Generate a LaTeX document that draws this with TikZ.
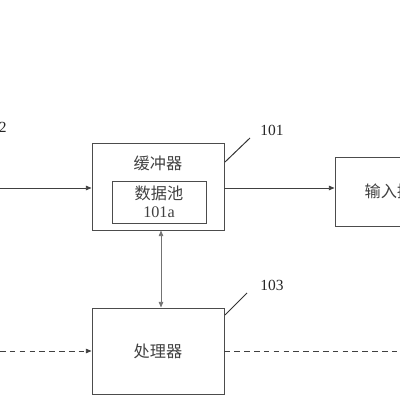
\documentclass[tikz,border=0pt]{standalone}
\usepackage{fontspec}
\setmainfont{Liberation Serif}
\newfontfamily\cjk{Noto Sans CJK SC}
\usetikzlibrary{arrows.meta}
\begin{document}
\begin{tikzpicture}[x=0.025cm,y=-0.025cm,
  box/.style={draw=black!70,line width=0.7pt,inner sep=0pt,font=\cjk\fontsize{11.5}{13}\selectfont,text=black!75},
  conn/.style={draw=black!75,line width=0.6pt},
  tip/.style={-{Triangle[length=4pt,width=3.2pt]}},
  lbl/.style={font=\fontsize{11}{12}\selectfont,text=black!85,inner sep=0pt},
  lead/.style={draw=black!80,line width=0.7pt}]
\useasboundingbox (0,0) rectangle (400,400);
\clip (0,0) rectangle (400,400);
% boxes
\node[box,minimum width=132*0.025cm,minimum height=87*0.025cm] (buf) at (158,186.5) {};
\node[font=\cjk\fontsize{11.5}{13}\selectfont,text=black!75] (buft) at (158,163) {缓冲器};
\node[box,minimum width=94*0.025cm,minimum height=42*0.025cm,align=center] (pool) at (159,202) {数据池\\[-0.5pt]{\rmfamily\fontsize{11.5}{13}\selectfont 101a}};
\node[box,minimum width=124*0.025cm,minimum height=69*0.025cm] (inp) at (397,191.5) {输入接口};
\node[box,minimum width=132*0.025cm,minimum height=86*0.025cm] (proc) at (158,351) {处理器};
% free ends
\coordinate (inL) at (0,188);
\coordinate (dashL) at (0,351);
\coordinate (dashR) at (400,351);
% connectors
\draw[conn,tip] (inL) -- (inL -| buf.west);
\draw[conn,tip] (inL -| buf.east) -- (inL -| inp.west);
\draw[conn,draw=black!55,{Triangle[length=4pt,width=3.2pt]}-{Triangle[length=4pt,width=3.2pt]}] ([xshift=0.075cm]buf.south) -- ([xshift=0.075cm]proc.north);
\draw[conn,dashed,dash pattern=on 4pt off 3pt,tip] (dashL) -- (proc.west);
\draw[conn,dashed,dash pattern=on 4pt off 3pt] (proc.east) -- (dashR);
% labels
\node[lbl] (l102) at (-5,127) {102};
\node[lbl] (l101) at (272,130) {101};
\node[lbl] (l103) at (272,285) {103};
\coordinate (a1) at (225,162);
\coordinate (a2) at (250,138);
\coordinate (b1) at (225,315);
\coordinate (b2) at (247,293);
\draw[lead] (a1) -- (a2);
\draw[lead] (b1) -- (b2);
\end{tikzpicture}
\end{document}
